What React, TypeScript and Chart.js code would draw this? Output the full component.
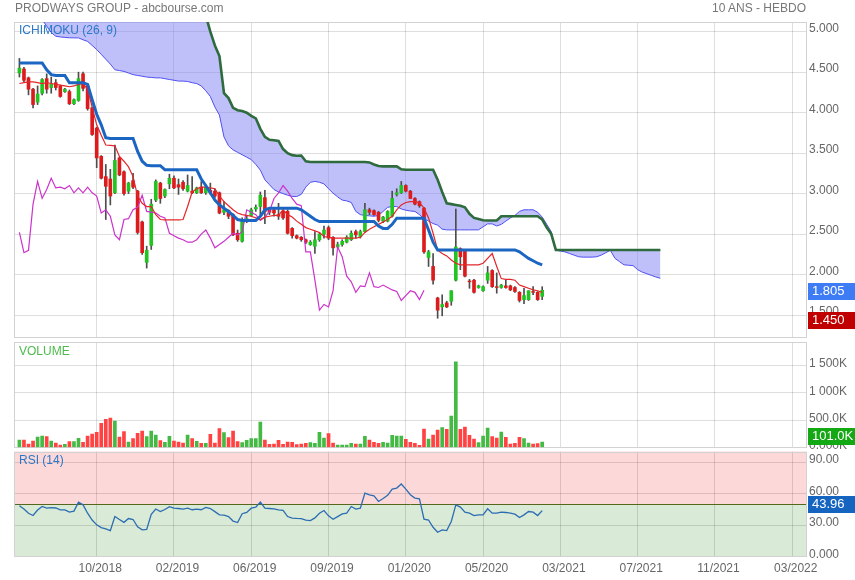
import React, { useEffect, useRef } from "react";
import { Chart, registerables } from "chart.js";

Chart.register(...registerables);

const FONT = "'Liberation Sans', Arial, Helvetica, sans-serif";
Chart.defaults.font.family = FONT;
Chart.defaults.font.size = 12;
Chart.defaults.color = "#666";

// ---------------- data (weekly candles, index 0..115) ----------------
const opens = [
  4.49, 4.54, 4.43, 4.29, 4.13, 4.24, 4.42, 4.31, 4.37, 4.33,
  4.26, 4.26, 4.11, 4.15, 4.48, 4.33, 4.06, 3.81, 3.46, 3.21,
  3.18, 3.01, 3.44, 3.27, 3.03, 3.16, 3.03, 2.65, 2.15, 2.36,
  2.92, 3.13, 2.97, 3.12, 3.19, 3.11, 3.14, 3.03, 3.03, 3.01,
  3.08, 3.01, 3.04, 3.03, 3.01, 2.77, 2.79, 2.74, 2.51, 2.41,
  2.66, 2.73, 2.81, 2.84, 2.95, 2.80, 2.80, 2.74, 2.78, 2.78,
  2.57, 2.48, 2.46, 2.43, 2.37, 2.35, 2.43, 2.50, 2.58, 2.46,
  2.34, 2.37, 2.40, 2.43, 2.53, 2.47, 2.53, 2.80, 2.79, 2.77,
  2.66, 2.66, 2.72, 2.99, 3.01, 3.10, 3.03, 2.94, 2.90, 2.82,
  2.21, 2.10, 1.71, 1.60, 1.65, 1.67, 1.93, 2.32, 2.30, 1.92,
  1.93, 1.84, 1.80, 1.93, 2.05, 1.85, 1.84, 1.86, 1.86, 1.84,
  1.78, 1.69, 1.69, 1.79, 1.78, 1.73,
];
const highs = [
  4.67, 4.56, 4.44, 4.30, 4.33, 4.42, 4.48, 4.44, 4.41, 4.34,
  4.30, 4.28, 4.17, 4.50, 4.50, 4.34, 4.07, 3.82, 3.47, 3.36,
  3.30, 3.60, 3.45, 3.28, 3.14, 3.25, 3.04, 2.66, 2.35, 2.93,
  3.17, 3.14, 3.06, 3.24, 3.22, 3.18, 3.16, 3.23, 3.21, 3.08,
  3.15, 3.10, 3.13, 3.06, 3.02, 2.90, 2.80, 2.75, 2.55, 2.70,
  2.72, 2.82, 2.86, 3.02, 3.04, 2.82, 2.83, 2.88, 2.80, 2.80,
  2.58, 2.49, 2.47, 2.44, 2.42, 2.53, 2.52, 2.60, 2.60, 2.47,
  2.40, 2.43, 2.48, 2.54, 2.55, 2.55, 2.88, 2.82, 2.80, 2.78,
  2.72, 2.79, 3.03, 3.06, 3.15, 3.11, 3.04, 2.95, 2.91, 2.83,
  2.30, 2.26, 1.72, 1.75, 1.67, 1.80, 2.81, 2.33, 2.31, 1.94,
  1.94, 1.87, 1.86, 2.10, 2.06, 2.02, 1.88, 1.93, 1.87, 1.85,
  1.79, 1.83, 1.80, 1.85, 1.79, 1.85,
];
const lows = [
  4.44, 4.38, 4.22, 4.06, 4.10, 4.22, 4.24, 4.24, 4.28, 4.19,
  4.25, 4.10, 4.10, 4.14, 4.27, 4.03, 3.72, 3.32, 3.18, 2.68,
  2.86, 3.00, 3.22, 2.98, 3.00, 3.06, 2.50, 2.25, 2.08, 2.31,
  2.90, 2.88, 2.95, 3.06, 3.06, 2.99, 3.04, 3.02, 3.00, 3.00,
  3.00, 2.99, 2.99, 2.95, 2.75, 2.74, 2.69, 2.48, 2.41, 2.40,
  2.64, 2.72, 2.78, 2.74, 2.63, 2.74, 2.72, 2.68, 2.68, 2.50,
  2.45, 2.44, 2.41, 2.38, 2.36, 2.26, 2.41, 2.45, 2.43, 2.24,
  2.33, 2.35, 2.39, 2.42, 2.45, 2.45, 2.52, 2.74, 2.73, 2.65,
  2.64, 2.65, 2.71, 2.97, 3.00, 3.02, 2.94, 2.86, 2.83, 2.26,
  2.10, 1.88, 1.46, 1.49, 1.59, 1.62, 1.92, 2.06, 1.97, 1.83,
  1.77, 1.83, 1.79, 1.89, 1.84, 1.77, 1.83, 1.83, 1.80, 1.78,
  1.66, 1.64, 1.68, 1.75, 1.68, 1.69,
];
const closes = [
  4.55, 4.40, 4.29, 4.10, 4.23, 4.41, 4.29, 4.35, 4.31, 4.20,
  4.29, 4.11, 4.16, 4.42, 4.30, 4.05, 3.73, 3.44, 3.19, 3.09,
  2.97, 3.41, 3.23, 3.00, 3.13, 3.08, 2.52, 2.27, 2.30, 2.87,
  3.15, 2.94, 3.05, 3.19, 3.07, 3.08, 3.06, 3.10, 3.01, 3.07,
  3.01, 3.08, 3.01, 2.97, 2.76, 2.80, 2.72, 2.49, 2.43, 2.68,
  2.69, 2.80, 2.83, 2.98, 2.78, 2.77, 2.76, 2.72, 2.70, 2.51,
  2.48, 2.45, 2.43, 2.40, 2.40, 2.43, 2.50, 2.55, 2.45, 2.33,
  2.37, 2.41, 2.46, 2.51, 2.49, 2.53, 2.80, 2.77, 2.74, 2.67,
  2.71, 2.78, 2.94, 3.01, 3.10, 3.03, 2.94, 2.87, 2.85, 2.28,
  2.28, 1.93, 1.56, 1.63, 1.60, 1.80, 2.34, 2.22, 1.98, 1.91,
  1.78, 1.86, 1.85, 2.02, 1.85, 1.84, 1.87, 1.84, 1.81, 1.79,
  1.68, 1.74, 1.80, 1.78, 1.69, 1.805,
];
// volume in thousands of shares
const volumesK = [
  137, 137, 64, 119, 192, 211, 198, 119, 82, 46,
  58, 107, 107, 168, 95, 211, 247, 278, 443, 516,
  540, 485, 192, 290, 101, 162, 259, 302, 198, 302,
  229, 125, 95, 204, 119, 101, 82, 229, 162, 113,
  76, 76, 241, 82, 345, 272, 180, 302, 107, 89,
  131, 162, 162, 467, 137, 58, 64, 131, 58, 101,
  95, 52, 64, 76, 89, 76, 278, 174, 253, 82,
  46, 46, 46, 76, 64, 64, 204, 137, 95, 76,
  95, 82, 223, 211, 211, 150, 95, 76, 40, 339,
  156, 229, 320, 363, 333, 577, 1566, 333, 375, 223,
  156, 89, 211, 357, 198, 174, 284, 186, 64, 76,
  186, 162, 82, 64, 70, 101,
];
const rsi14 = [
  48.6, 45.5, 41.5, 39.3, 44.5, 47.9, 46.3, 46.8, 46.5, 44.7,
  44.7, 42.5, 43.5, 52.1, 49.5, 41.5, 35.0, 30.4, 27.8, 26.5,
  24.9, 38.3, 35.5, 32.8, 36.4, 35.5, 28.5, 25.6, 26.0, 40.5,
  45.5, 43.1, 45.0, 47.8, 46.3, 46.0, 45.5, 46.3, 44.8, 45.4,
  44.8, 47.0, 46.0, 43.0, 39.9, 39.7, 38.3, 34.0, 32.6, 41.0,
  42.2, 46.3, 47.3, 52.1, 46.3, 46.0, 45.7, 44.7, 44.2, 38.3,
  36.8, 36.5, 36.4, 35.0, 34.5, 37.0, 41.5, 44.1, 39.0, 35.8,
  38.3, 40.9, 41.5, 47.9, 45.4, 46.3, 60.7, 59.1, 58.0, 52.7,
  55.5, 58.5, 64.6, 65.5, 69.4, 64.5, 59.1, 55.9, 55.3, 35.8,
  35.0, 28.1, 23.3, 25.6, 24.9, 33.6, 49.5, 47.3, 42.5, 41.5,
  39.3, 39.9, 39.9, 45.7, 41.5, 41.5, 42.5, 42.2, 41.5, 40.6,
  37.4, 39.9, 43.1, 42.5, 39.3, 43.96,
];
// Ichimoku lines
const tenkan = [
  4.36, 4.37, 4.38, 4.38, 4.37, 4.36, 4.37, 4.36, 4.35, 4.34,
  4.33, 4.32, 4.33, 4.35, 4.36, 4.29, 4.07, 3.85, 3.72, 3.60,
  3.595, 3.59, 3.46, 3.40, 3.33, 3.21, 2.97, 2.88, 2.84, 2.84,
  2.74, 2.68, 2.676, 2.676, 2.676, 2.676, 2.68, 2.84, 3.02, 3.06,
  3.08, 3.08, 3.07, 3.06, 2.97, 2.90, 2.85, 2.80, 2.76, 2.74,
  2.73, 2.72, 2.70, 2.68, 2.71, 2.72, 2.73, 2.73, 2.80, 2.74,
  2.71, 2.66, 2.62, 2.58, 2.56, 2.54, 2.52, 2.47, 2.46, 2.45,
  2.45, 2.45, 2.45, 2.45, 2.45, 2.46, 2.52, 2.56, 2.59, 2.62,
  2.65, 2.68, 2.72, 2.80, 2.86, 2.89, 2.90, 2.90, 2.89, 2.82,
  2.70, 2.51, 2.30, 2.26, 2.23, 2.18, 2.14, 2.12, 2.12, 2.12,
  2.12, 2.12, 2.14, 2.20, 2.26, 2.10, 1.95, 1.94, 1.94, 1.93,
  1.87, 1.85, 1.83, 1.81, 1.80, 1.78,
];
const kijun = [
  4.615, 4.615, 4.615, 4.615, 4.615, 4.615, 4.53, 4.47, 4.46, 4.46,
  4.46, 4.37, 4.37, 4.37, 4.37, 4.35, 4.16, 3.98, 3.85, 3.69,
  3.68, 3.68, 3.68, 3.68, 3.68, 3.68, 3.52, 3.40, 3.35, 3.345,
  3.345, 3.345, 3.294, 3.294, 3.294, 3.294, 3.294, 3.294, 3.294, 3.294,
  3.18, 3.10, 3.01, 2.92, 2.86, 2.82, 2.78, 2.73, 2.68, 2.667,
  2.667, 2.667, 2.667, 2.72, 2.80, 2.82, 2.82, 2.82, 2.82, 2.82,
  2.82, 2.82, 2.80, 2.76, 2.72, 2.68, 2.655, 2.655, 2.655, 2.655,
  2.655, 2.655, 2.655, 2.655, 2.655, 2.655, 2.655, 2.655, 2.655, 2.60,
  2.57, 2.57, 2.62, 2.696, 2.696, 2.696, 2.696, 2.696, 2.696, 2.696,
  2.55, 2.40, 2.304, 2.304, 2.304, 2.304, 2.304, 2.304, 2.304, 2.304,
  2.304, 2.304, 2.304, 2.304, 2.304, 2.304, 2.304, 2.304, 2.304, 2.304,
  2.28, 2.24, 2.20, 2.17, 2.14, 2.12,
];
// cloud spans, already drawn 26 weeks ahead (index 0..141)
const senkouA = [
  5.45, 5.40, 5.35, 5.30, 5.22, 5.15, 5.07, 4.99, 4.944, 4.935,
  4.93, 4.925, 4.924, 4.924, 4.90, 4.88, 4.83, 4.78, 4.72, 4.66,
  4.60, 4.53, 4.52, 4.51, 4.49, 4.47, 4.46, 4.45, 4.44, 4.435,
  4.43, 4.43, 4.42, 4.41, 4.40, 4.39, 4.39, 4.385, 4.37, 4.36,
  4.33, 4.27, 4.20, 4.07, 3.97, 3.70, 3.59, 3.54, 3.51, 3.48,
  3.45, 3.42, 3.36, 3.29, 3.17, 3.11, 3.05, 3.02, 3.00, 2.98,
  2.965, 2.964, 2.99, 3.08, 3.14, 3.15, 3.14, 3.12, 3.06, 3.005,
  2.96, 2.92, 2.91, 2.89, 2.78, 2.74, 2.73, 2.725, 2.72, 2.73,
  2.78, 2.83, 2.84, 2.84, 2.81, 2.795, 2.785, 2.78, 2.74, 2.69,
  2.66, 2.63, 2.61, 2.56, 2.552, 2.552, 2.552, 2.552, 2.552, 2.552,
  2.552, 2.552, 2.59, 2.626, 2.626, 2.60, 2.62, 2.66, 2.70, 2.73,
  2.78, 2.80, 2.80, 2.80, 2.77, 2.71, 2.62, 2.53, 2.30, 2.29,
  2.28, 2.26, 2.24, 2.22, 2.215, 2.215, 2.215, 2.22, 2.24, 2.27,
  2.30, 2.20, 2.16, 2.12, 2.115, 2.11, 2.06, 2.03, 2.01, 1.99,
  1.97, 1.954,
];
const senkouB = [
  5.90, 5.90, 5.90, 5.90, 5.90, 5.90, 5.90, 5.90, 5.90, 5.90,
  5.90, 5.90, 5.90, 5.90, 5.90, 5.90, 5.90, 5.90, 5.90, 5.90,
  5.90, 5.90, 5.90, 5.90, 5.90, 5.90, 5.90, 5.90, 5.90, 5.90,
  5.90, 5.90, 5.90, 5.90, 5.90, 5.90, 5.90, 5.90, 5.90, 5.60,
  5.40, 5.20, 5.00, 4.83, 4.70, 4.24, 4.18, 4.06, 4.03, 4.02,
  4.00, 3.96, 3.93, 3.80, 3.70, 3.665, 3.66, 3.65, 3.55, 3.50,
  3.475, 3.467, 3.47, 3.40, 3.39, 3.39, 3.39, 3.39, 3.39, 3.39,
  3.39, 3.39, 3.39, 3.39, 3.39, 3.39, 3.39, 3.385, 3.36, 3.34,
  3.336, 3.336, 3.336, 3.336, 3.30, 3.294, 3.294, 3.294, 3.294, 3.294,
  3.294, 3.294, 3.17, 3.02, 2.88, 2.87, 2.86, 2.85, 2.83, 2.75,
  2.70, 2.685, 2.67, 2.667, 2.667, 2.667, 2.72, 2.72, 2.72, 2.72,
  2.72, 2.72, 2.72, 2.72, 2.72, 2.68, 2.58, 2.50, 2.304, 2.304,
  2.304, 2.304, 2.304, 2.304, 2.304, 2.304, 2.304, 2.304, 2.304, 2.304,
  2.304, 2.304, 2.304, 2.304, 2.304, 2.304, 2.304, 2.304, 2.304, 2.304,
  2.304, 2.304,
];
const CHIKOU_SHIFT = 26;

const xTickIndex = [17, 34, 51, 68, 85, 102, 119, 136, 153, 170];
const xTickLabels = ["10/2018", "02/2019", "06/2019", "09/2019", "01/2020", "05/2020", "03/2021", "07/2021", "11/2021", "03/2022"];
const priceTicks = [1.5, 2, 2.5, 3, 3.5, 4, 4.5, 5];
const priceTickLabels = ["1.500", "2.000", "2.500", "3.000", "3.500", "4.000", "4.500", "5.000"];
const volumeTicks = [0, 500, 1000, 1500];
const volumeTickLabels = ["0.000K", "500.0K", "1 000K", "1 500K"];
const rsiTicks = [0, 30, 60, 90];
const rsiTickLabels = ["0.000", "30.00", "60.00", "90.00"];
const RSI_MID = 50;

const lastClose = 1.805;
const lowestMark = 1.45;
const lastVolumeK = 101.0;
const lastRsi = 43.96;

// ---------------- styling ----------------
const X_MIN = -1.19;
const X_MAX = 173.25;
const GRID = "rgba(0,0,0,0.13)";
const UP = "#22c422";
const DOWN = "#dc1c1c";
const VOL_UP = "#44b944";
const VOL_DOWN = "#ff4242";

const pts = (arr: number[]) => arr.map((y, x) => ({ x, y }));

function xAxis(showLabels: boolean) {
  return {
    type: "linear" as const,
    min: X_MIN,
    max: X_MAX,
    offset: false,
    afterBuildTicks: (s: any) => {
      s.ticks = xTickIndex.map((v) => ({ value: v }));
    },
    grid: { color: GRID, drawTicks: false, offset: false },
    border: { display: false },
    ticks: {
      display: showLabels,
      autoSkip: false,
      maxRotation: 0,
      padding: 5,
      labelOffset: 3.5,
      color: "#666",
      font: { size: 12, family: FONT },
      callback: (_v: any, i: number) => xTickLabels[i],
    },
    afterFit: (s: any) => {
      s.height = showLabels ? 23.3 : 0;
      s.paddingLeft = 0;
      s.paddingRight = 0;
    },
  };
}

function yAxis(min: number, max: number, ticks: number[], labels: string[], labelOffset: number) {
  return {
    type: "linear" as const,
    position: "right" as const,
    min,
    max,
    afterBuildTicks: (s: any) => {
      s.ticks = ticks.map((v) => ({ value: v }));
    },
    grid: { color: GRID, drawTicks: false },
    border: { display: false },
    ticks: {
      padding: 2,
      labelOffset,
      autoSkip: false,
      color: "#666",
      font: { size: 12, family: FONT },
      callback: (_v: any, i: number) => labels[i],
    },
    afterFit: (s: any) => {
      s.width = 48;
      s.paddingTop = 0;
      s.paddingBottom = 0;
    },
  };
}

const framePlugin = {
  id: "frame",
  beforeDatasetsDraw(chart: any) {
    const { ctx, chartArea } = chart;
    ctx.save();
    ctx.strokeStyle = "#d2d2d2";
    ctx.lineWidth = 1;
    ctx.strokeRect(
      Math.round(chartArea.left) + 0.5,
      Math.round(chartArea.top) + 0.5,
      Math.round(chartArea.right - chartArea.left) - 1,
      Math.round(chartArea.bottom - chartArea.top) - 1
    );
    ctx.restore();
  },
};

function tagPlugin(id: string, tags: { value: number; text: string; bg: string; dy: number }[]) {
  return {
    id,
    afterDraw(chart: any) {
      const { ctx, chartArea, scales } = chart;
      const s = scales.y;
      ctx.save();
      for (const t of tags) {
        const cy = s.getPixelForValue(t.value) + t.dy;
        const x0 = Math.round(chartArea.right) + 1;
        ctx.fillStyle = t.bg;
        ctx.fillRect(x0, Math.round(cy - 8.5), chart.width - x0, 17);
        ctx.fillStyle = "#fff";
        ctx.font = `13px ${FONT}`;
        ctx.textBaseline = "middle";
        ctx.textAlign = "left";
        ctx.fillText(t.text, x0 + 4, Math.round(cy) + 0.5);
      }
      ctx.restore();
    },
  };
}

const rsiZonesPlugin = {
  id: "rsiZones",
  beforeDraw(chart: any) {
    const { ctx, chartArea, scales } = chart;
    const mid = scales.y.getPixelForValue(RSI_MID);
    const { left, right, top, bottom } = chartArea;
    ctx.save();
    ctx.fillStyle = "#fdd8d8";
    ctx.fillRect(left, top, right - left, mid - top);
    ctx.fillStyle = "#d9ead6";
    ctx.fillRect(left, mid, right - left, bottom - mid);
    ctx.restore();
  },
  beforeDatasetsDraw(chart: any) {
    const { ctx, chartArea, scales } = chart;
    const mid = Math.round(scales.y.getPixelForValue(RSI_MID)) + 0.5;
    ctx.save();
    ctx.strokeStyle = "#56661c";
    ctx.lineWidth = 1;
    ctx.beginPath();
    ctx.moveTo(chartArea.left, mid);
    ctx.lineTo(chartArea.right, mid);
    ctx.stroke();
    ctx.restore();
  },
};

const baseOptions = (padding: any) => ({
  responsive: false,
  animation: false as const,
  events: [] as any[],
  layout: { padding },
  plugins: { legend: { display: false }, tooltip: { enabled: false } },
});

function mainConfig(): any {
  const bodyColors = closes.map((c, i) => (c >= opens[i] ? UP : DOWN));
  const line = (data: any[], color: string, width: number, order: number, extra: any = {}) => ({
    type: "line",
    data,
    borderColor: color,
    borderWidth: width,
    pointRadius: 0,
    tension: 0,
    fill: false,
    order,
    ...extra,
  });
  return {
    type: "bar",
    data: {
      datasets: [
        line(pts(senkouA), "#4f4ff2", 1, 10, { fill: "+1", backgroundColor: "rgba(128,128,245,0.5)" }),
        line(pts(senkouB), "#2e6b3d", 2.6, 9),
        {
          type: "bar",
          data: highs.map((h, i) => ({ x: i, y: [lows[i], h] })),
          backgroundColor: "#4d4d4d",
          barThickness: 1,
          grouped: false,
          order: 8,
        },
        {
          type: "bar",
          data: opens.map((o, i) => ({ x: i, y: [o, closes[i]] })),
          backgroundColor: bodyColors,
          barThickness: 3,
          grouped: false,
          order: 7,
        },
        line(pts(closes.slice(CHIKOU_SHIFT)), "#cc33cc", 1.2, 5),
        line(pts(tenkan), "#e3262a", 1.2, 4),
        line(pts(kijun), "#1a66c2", 3, 3),
      ],
    },
    options: {
      ...baseOptions({ left: 14, top: 22, right: 0, bottom: 7 }),
      scales: {
        x: xAxis(false),
        y: yAxis(1.216, 5.12, priceTicks, priceTickLabels, -3),
      },
    },
    plugins: [
      framePlugin,
      tagPlugin("priceTags", [
        { value: lastClose, text: lastClose.toFixed(3), bg: "#3d7cf5", dy: 1 },
        { value: lowestMark, text: lowestMark.toFixed(3), bg: "#c00000", dy: 1 },
      ]),
    ],
  };
}

function volumeConfig(): any {
  const colors = closes.map((c, i) => (c >= opens[i] ? VOL_UP : VOL_DOWN));
  return {
    type: "bar",
    data: {
      datasets: [
        {
          data: volumesK.map((v, i) => ({ x: i, y: v })),
          backgroundColor: colors,
          barThickness: 3,
        },
      ],
    },
    options: {
      ...baseOptions({ left: 14, top: 2, right: 0, bottom: 9.5 }),
      scales: {
        x: xAxis(false),
        y: yAxis(0, 1930, volumeTicks, volumeTickLabels, -1.5),
      },
    },
    plugins: [
      framePlugin,
      tagPlugin("volTag", [{ value: lastVolumeK, text: lastVolumeK.toFixed(1) + "K", bg: "#14a814", dy: -5.5 }]),
    ],
  };
}

function rsiConfig(): any {
  return {
    type: "line",
    data: {
      datasets: [
        {
          data: pts(rsi14),
          borderColor: "#2b6cb3",
          borderWidth: 1.3,
          pointRadius: 0,
          tension: 0,
          fill: false,
        },
      ],
    },
    options: {
      ...baseOptions({ left: 14, top: 2.5, right: 0, bottom: 0 }),
      scales: {
        x: xAxis(true),
        y: yAxis(0, 100.4, rsiTicks, rsiTickLabels, -2.5),
      },
    },
    plugins: [
      rsiZonesPlugin,
      framePlugin,
      tagPlugin("rsiTag", [{ value: lastRsi, text: lastRsi.toFixed(2), bg: "#1565c0", dy: -6.4 }]),
    ],
  };
}

const textStyle = (extra: React.CSSProperties): React.CSSProperties => ({
  position: "absolute",
  font: `12px ${FONT}`,
  lineHeight: "14px",
  whiteSpace: "nowrap",
  ...extra,
});

export default function App() {
  const mainRef = useRef<HTMLCanvasElement>(null);
  const volRef = useRef<HTMLCanvasElement>(null);
  const rsiRef = useRef<HTMLCanvasElement>(null);

  useEffect(() => {
    const charts = [
      new Chart(mainRef.current as HTMLCanvasElement, mainConfig()),
      new Chart(volRef.current as HTMLCanvasElement, volumeConfig()),
      new Chart(rsiRef.current as HTMLCanvasElement, rsiConfig()),
    ];
    return () => charts.forEach((c) => c.destroy());
  }, []);

  return (
    <div style={{ position: "absolute", left: 0, top: 0, width: 855, height: 580, background: "#fff", overflow: "hidden" }}>
      <canvas ref={mainRef} width={855} height={345} style={{ position: "absolute", left: 0, top: 0, width: 855, height: 345 }} />
      <canvas ref={volRef} width={855} height={117} style={{ position: "absolute", left: 0, top: 340, width: 855, height: 117 }} />
      <canvas ref={rsiRef} width={855} height={131} style={{ position: "absolute", left: 0, top: 449, width: 855, height: 131 }} />
      <div style={textStyle({ left: 15, top: 1, color: "#777" })}>PRODWAYS GROUP - abcbourse.com</div>
      <div style={textStyle({ right: 49, top: 1, color: "#777" })}>10 ANS - HEBDO</div>
      <div style={textStyle({ left: 19, top: 23, color: "#2a78c8" })}>ICHIMOKU (26, 9)</div>
      <div style={textStyle({ left: 19, top: 344, color: "#4cbb4c" })}>VOLUME</div>
      <div style={textStyle({ left: 19, top: 453, color: "#2a78c8" })}>RSI (14)</div>
    </div>
  );
}
